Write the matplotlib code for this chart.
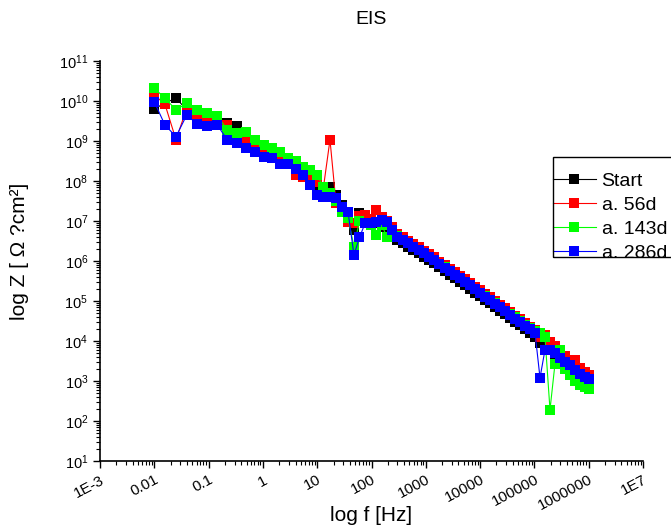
import matplotlib
matplotlib.use('Agg')

import numpy as np
import matplotlib.pyplot as plt
from matplotlib.ticker import FixedLocator, LogLocator, NullFormatter
from matplotlib.patches import Rectangle

plt.rcParams['font.family'] = ['Liberation Sans', 'DejaVu Sans']

# --- Data ---
freq = [0.01, 0.0157, 0.0251, 0.0396, 0.062, 0.0946, 0.1445, 0.221, 0.333, 0.489,
        0.717, 1.035, 1.47, 2.09, 2.94, 4.02, 5.47, 7.37, 9.91, 13.06,
        17.2, 22.2, 28.6, 36.9, 47.6, 60.1, 75.9, 96.6, 123.6, 154,
        193, 242, 301, 376, 470, 589, 734, 927, 1146, 1435,
        1787, 2228, 2791, 3450, 4266, 5272, 6516, 8054, 9954, 12300,
        15210, 18800, 23240, 28770, 35560, 43950, 54330, 67140, 82990, 102600,
        126800, 156700, 193700, 239400, 295900, 366400, 452800, 559700, 691800, 855100,
        1000000]

# log10 |Z| values
logz_start = [9.80, 9.95, 10.07, 9.78, 9.57, 9.50, 9.50, 9.44, 9.38, 9.15,
              8.95, 8.82, 8.70, 8.55, 8.48, 8.35, 8.22, 8.05, 7.90, 7.75,
              7.86, 7.65, 7.40, 7.20, 6.78, 7.19, 7.10, 7.00, 6.95, 6.86,
              6.85, 6.70, 6.53, 6.45, 6.36, 6.28, 6.20, 6.11, 6.03, 5.95,
              5.84, 5.75, 5.66, 5.57, 5.48, 5.39, 5.30, 5.21, 5.12, 5.03,
              4.94, 4.85, 4.76, 4.67, 4.58, 4.48, 4.39, 4.30, 4.20, 4.11,
              3.95, 3.85, 3.78, 3.68, 3.60, 3.50, 3.40, 3.30, 3.20, 3.10,
              3.00]
logz_56d = [10.15, 9.92, 9.03, 9.82, 9.63, 9.54, 9.50, 9.40, 9.07, 9.00,
            8.78, 8.73, 8.70, 8.54, 8.45, 8.15, 8.10, 8.05, 7.98, 7.85,
            9.03, 7.45, 7.30, 6.98, 6.95, 7.12, 7.15, 7.05, 7.28, 7.10,
            7.00, 6.85, 6.68, 6.60, 6.50, 6.42, 6.34, 6.26, 6.17, 6.09,
            5.98, 5.89, 5.81, 5.72, 5.63, 5.54, 5.45, 5.36, 5.27, 5.18,
            5.09, 5.00, 4.91, 4.82, 4.72, 4.63, 4.54, 4.45, 4.36, 4.27,
            4.10, 4.15, 3.98, 3.87, 3.75, 3.62, 3.50, 3.53, 3.32, 3.22,
            3.15]
logz_143d = [10.32, 10.07, 9.78, 9.94, 9.78, 9.71, 9.63, 9.28, 9.21, 9.23,
             9.03, 8.90, 8.82, 8.73, 8.57, 8.50, 8.36, 8.28, 8.15, 7.86,
             7.70, 7.50, 7.23, 7.07, 6.36, 7.00, 6.95, 6.90, 6.65, 6.90,
             6.60, 6.75, 6.62, 6.52, 6.44, 6.36, 6.28, 6.19, 6.11, 6.03,
             5.93, 5.84, 5.75, 5.66, 5.57, 5.48, 5.39, 5.30, 5.21, 5.12,
             5.03, 4.94, 4.85, 4.76, 4.68, 4.60, 4.50, 4.40, 4.33, 4.25,
             4.20, 4.10, 2.28, 3.43, 3.78, 3.30, 3.15, 3.00, 2.90, 2.85,
             2.80]
logz_286d = [9.98, 9.40, 9.11, 9.65, 9.42, 9.38, 9.40, 9.03, 8.94, 8.82,
             8.73, 8.59, 8.57, 8.42, 8.42, 8.30, 8.15, 7.90, 7.65, 7.61,
             7.61, 7.57, 7.36, 7.23, 6.15, 6.59, 6.94, 6.94, 6.98, 7.03,
             6.98, 6.78, 6.61, 6.53, 6.44, 6.36, 6.28, 6.19, 6.11, 6.03,
             5.92, 5.83, 5.75, 5.65, 5.57, 5.47, 5.39, 5.29, 5.21, 5.11,
             5.03, 4.93, 4.85, 4.75, 4.66, 4.56, 4.48, 4.38, 4.29, 4.21,
             3.08, 3.78, 3.78, 3.70, 3.57, 3.48, 3.40, 3.27, 3.17, 3.10,
             3.05]

series_labels = ['Start', 'a. 56d', 'a. 143d', 'a. 286d']
series_colors = ['#000000', '#FF0000', '#00FF00', '#0000FF']
series_logz = [logz_start, logz_56d, logz_143d, logz_286d]

xtick_vals = [1e-3, 1e-2, 1e-1, 1, 10, 100, 1e3, 1e4, 1e5, 1e6, 1e7]
xtick_labels = ['1E-3', '0.01', '0.1', '1', '10', '100', '1000', '10000',
                '100000', '1000000', '1E7']

# --- Plotting ---
W, H = 671, 531
fig = plt.figure(figsize=(W / 100, H / 100), dpi=100)
ax = fig.add_axes([100 / W, 1 - 461 / H, 543 / W, 400 / H])

for lab, col, lz in zip(series_labels, series_colors, series_logz):
    ax.plot(freq, 10 ** np.array(lz), color=col, marker='s', markersize=7,
            linewidth=0.8, markeredgewidth=0, label=lab)

ax.set_xscale('log')
ax.set_yscale('log')
ax.set_xlim(1e-3, 1e7)
ax.set_ylim(1e1, 1e11)

ax.xaxis.set_major_locator(FixedLocator(xtick_vals))
ax.set_xticklabels(xtick_labels, rotation=28, ha='right', rotation_mode='anchor',
                   fontsize=11)
ax.xaxis.set_minor_locator(LogLocator(base=10, subs=np.arange(2, 10), numticks=100))
ax.xaxis.set_minor_formatter(NullFormatter())
ax.yaxis.set_major_locator(LogLocator(base=10, numticks=20))
ax.yaxis.set_minor_locator(LogLocator(base=10, subs=np.arange(2, 10), numticks=100))
ax.yaxis.set_minor_formatter(NullFormatter())

ax.tick_params(which='major', length=5, width=1, direction='out')
ax.tick_params(axis='y', which='major', labelsize=10.5)
ax.tick_params(which='minor', length=3, width=0.8, direction='out')

ax.spines['top'].set_visible(False)
ax.spines['right'].set_visible(False)
ax.spines['left'].set_linewidth(1.2)
ax.spines['bottom'].set_linewidth(1.2)

ax.set_title('EIS', fontsize=14, pad=27)
ax.set_xlabel('log f [Hz]', fontsize=15)
ax.xaxis.set_label_coords(0.5, -0.112)
ax.set_ylabel('log Z [ \u03a9 ?cm\u00b2]', fontsize=15)
ax.yaxis.set_label_coords(-0.131, 0.525)

# legend (Origin-style box, tight around the rows)
leg = ax.legend(loc='upper left', bbox_to_anchor=(553 / W, 1 - 172 / H),
                bbox_transform=fig.transFigure, fontsize=14, frameon=False,
                borderpad=0, handlelength=2.2, handletextpad=0.3,
                labelspacing=0.33, borderaxespad=0)
fig.patches.append(Rectangle((553 / W, 1 - 257 / H), 0.2, 100 / H,
                             transform=fig.transFigure, fill=False,
                             edgecolor='black', linewidth=1.0))

plt.savefig('out.png', dpi=100)
